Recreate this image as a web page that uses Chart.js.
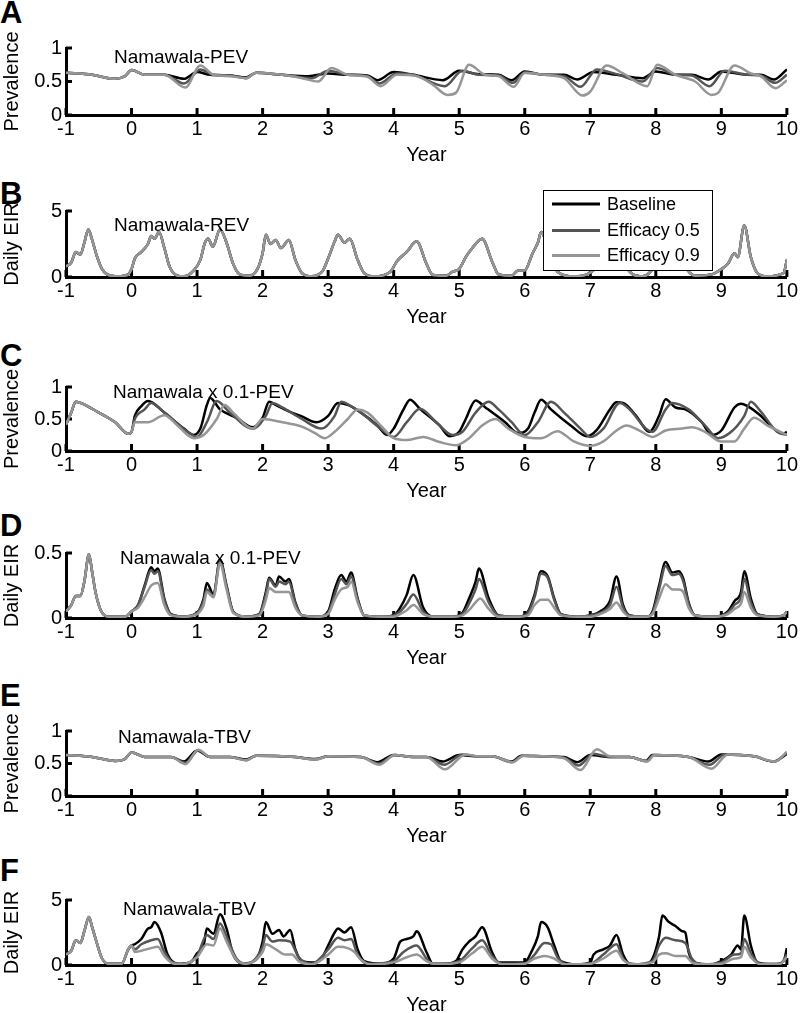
<!DOCTYPE html>
<html>
<head>
<meta charset="utf-8">
<script src="https://cdn.jsdelivr.net/npm/chart.js@4.4.0/dist/chart.umd.min.js"></script>
<style>
  body { margin: 0; background: #fff; width: 800px; height: 1013px; position: relative; overflow: hidden;
         font-family: "Liberation Sans", Arial, sans-serif; }
  .panel { position: absolute; left: 0; width: 800px; }
  .letter { position: absolute; left: 0; font-weight: bold; font-size: 31px; line-height: 30px; color: #000; }
</style>
</head>
<body>
<script>
const seriesNames = ["Baseline", "Efficacy 0.5", "Efficacy 0.9"];
const seriesColors = ["#000000", "#555555", "#969696"];
const prevTicks = [0, 0.5, 1];
const eirTicks = [0, 5];
const eirLowTicks = [0, 0.5];

// A: prevalence, Namawala-PEV  [year, value]
const aBase = [[-1,0.63],[-0.6,0.6],[-0.25,0.54],[-0.1,0.58],[0,0.67],[0.2,0.6],[0.5,0.6],[0.8,0.54],[1.0,0.64],[1.2,0.6],[1.5,0.59],[1.75,0.56],[1.9,0.63],[2.3,0.6],[2.7,0.58],[3.0,0.62],[3.3,0.6],[3.6,0.59],[3.75,0.52],[4.0,0.64],[4.3,0.6],[4.75,0.52],[5.0,0.66],[5.3,0.61],[5.6,0.6],[5.8,0.52],[6.0,0.65],[6.3,0.6],[6.6,0.6],[6.8,0.53],[7.05,0.64],[7.4,0.6],[7.8,0.55],[8.0,0.65],[8.3,0.6],[8.55,0.6],[8.8,0.53],[9.0,0.65],[9.4,0.6],[9.6,0.6],[9.8,0.53],[10,0.68]];
const aPre = [[-1,0.63],[-0.6,0.6],[-0.25,0.54],[-0.1,0.58],[0,0.67],[0.2,0.6],[0.5,0.6]];
const aEff5 = aPre.concat([[0.8,0.47],[1.05,0.68],[1.25,0.6],[1.5,0.59],[1.75,0.55],[1.9,0.63],[2.3,0.6],[2.75,0.55],[3.0,0.66],[3.3,0.6],[3.6,0.58],[3.78,0.47],[4.05,0.62],[4.3,0.6],[4.78,0.43],[5.05,0.66],[5.3,0.6],[5.6,0.59],[5.82,0.48],[6.0,0.63],[6.3,0.6],[6.6,0.58],[6.85,0.42],[7.1,0.68],[7.4,0.61],[7.8,0.5],[8.02,0.7],[8.3,0.6],[8.55,0.59],[8.82,0.43],[9.05,0.66],[9.4,0.6],[9.6,0.59],[9.82,0.48],[10,0.6]]);
const aEff9 = aPre.concat([[0.82,0.41],[1.05,0.74],[1.25,0.6],[1.5,0.58],[1.75,0.55],[1.9,0.63],[2.3,0.6],[2.6,0.55],[2.85,0.5],[3.05,0.7],[3.3,0.6],[3.6,0.57],[3.8,0.43],[4.05,0.6],[4.35,0.58],[4.6,0.45],[4.82,0.3],[4.95,0.33],[5.15,0.75],[5.4,0.6],[5.6,0.58],[5.83,0.42],[6.0,0.63],[6.3,0.6],[6.6,0.55],[6.88,0.29],[7.0,0.35],[7.25,0.74],[7.5,0.62],[7.87,0.43],[8.02,0.75],[8.3,0.6],[8.6,0.5],[8.85,0.3],[8.95,0.33],[9.2,0.74],[9.45,0.62],[9.6,0.58],[9.83,0.4],[10,0.52]]);

// B: daily EIR, Namawala-PEV (the three curves coincide)
const bBase = [[-1,0.8],[-0.92,1.1],[-0.85,1.9],[-0.78,1.7],[-0.72,2.6],[-0.66,3.6],[-0.6,2.8],[-0.53,1.6],[-0.45,0.6],[-0.35,0.15],[-0.2,0.05],[-0.05,0.2],[0,0.6],[0.05,1.4],[0.15,1.9],[0.25,2.5],[0.3,3.1],[0.35,2.9],[0.42,3.4],[0.5,2.2],[0.58,0.8],[0.68,0.15],[0.8,0.05],[0.95,0.5],[1.05,1.3],[1.12,2.6],[1.17,2.9],[1.24,2.3],[1.35,3.6],[1.45,2.6],[1.55,1.0],[1.65,0.2],[1.8,0.1],[1.92,0.6],[2.0,1.8],[2.05,3.2],[2.12,2.5],[2.2,2.8],[2.28,2.2],[2.4,2.8],[2.5,1.3],[2.6,0.3],[2.75,0.05],[2.92,0.5],[3.0,1.4],[3.1,2.7],[3.15,3.2],[3.25,2.6],[3.33,2.9],[3.45,1.3],[3.55,0.3],[3.7,0.05],[3.95,0.4],[4.05,1.2],[4.2,1.9],[4.35,2.7],[4.5,1.0],[4.6,0.15],[4.8,0.1],[4.9,0.4],[5.0,0.6],[5.1,1.5],[5.2,2.2],[5.35,2.9],[5.5,1.2],[5.6,0.2],[5.8,0.1],[5.9,0.5],[6.0,0.5],[6.12,1.8],[6.2,2.6],[6.25,3.4],[6.38,1.7],[6.5,0.4],[6.75,0.05],[6.95,0.2],[7.15,1.0],[7.3,2.0],[7.4,2.6],[7.5,1.2],[7.65,0.2],[7.8,0.05],[7.95,0.6],[8.1,2.2],[8.2,3.0],[8.35,2.2],[8.45,0.8],[8.6,0.1],[8.85,0.2],[9.0,0.6],[9.1,1.0],[9.2,1.8],[9.25,1.5],[9.35,3.9],[9.45,1.5],[9.55,0.3],[9.7,0.05],[9.95,0.3],[10,1.3]];
const bEff5 = bBase;
const bEff9 = bBase;

// C: prevalence, Namawala x 0.1-PEV
const cPre = [[-1,0.41],[-0.92,0.6],[-0.85,0.77],[-0.75,0.74],[-0.5,0.6],[-0.25,0.45],[-0.05,0.27],[0,0.3]];
const cBase = cPre.concat([[0.05,0.55],[0.15,0.7],[0.25,0.78],[0.5,0.6],[0.8,0.35],[0.95,0.25],[1.05,0.35],[1.15,0.72],[1.2,0.83],[1.35,0.65],[1.6,0.52],[1.85,0.37],[2.0,0.52],[2.1,0.77],[2.2,0.72],[2.4,0.62],[2.6,0.54],[2.82,0.45],[3.0,0.55],[3.15,0.75],[3.3,0.72],[3.5,0.6],[3.75,0.4],[3.9,0.25],[4.0,0.35],[4.15,0.65],[4.25,0.8],[4.4,0.66],[4.7,0.4],[4.85,0.23],[5.0,0.3],[5.1,0.5],[5.25,0.79],[5.4,0.68],[5.7,0.45],[5.9,0.28],[6.05,0.35],[6.15,0.6],[6.25,0.8],[6.4,0.65],[6.7,0.4],[6.95,0.23],[7.1,0.33],[7.3,0.65],[7.4,0.76],[7.5,0.75],[7.7,0.55],[7.9,0.3],[8.05,0.55],[8.15,0.81],[8.3,0.68],[8.45,0.65],[8.7,0.45],[8.85,0.25],[9.0,0.32],[9.2,0.68],[9.3,0.74],[9.4,0.7],[9.6,0.55],[9.8,0.35],[9.95,0.27],[10,0.3]]);
const cEff5 = cPre.concat([[0.05,0.5],[0.2,0.65],[0.3,0.75],[0.5,0.6],[0.85,0.3],[1.0,0.22],[1.15,0.45],[1.3,0.78],[1.5,0.6],[1.85,0.35],[2.05,0.55],[2.15,0.75],[2.3,0.68],[2.6,0.5],[2.9,0.35],[3.1,0.55],[3.2,0.77],[3.35,0.7],[3.5,0.6],[3.8,0.35],[4.0,0.22],[4.2,0.45],[4.4,0.66],[4.65,0.45],[4.9,0.25],[5.05,0.3],[5.25,0.6],[5.45,0.77],[5.6,0.65],[5.8,0.45],[6.0,0.25],[6.2,0.45],[6.4,0.77],[6.6,0.6],[6.85,0.35],[7.0,0.22],[7.2,0.35],[7.45,0.75],[7.6,0.65],[7.85,0.35],[7.95,0.3],[8.15,0.65],[8.25,0.75],[8.5,0.65],[8.75,0.4],[8.95,0.2],[9.15,0.3],[9.35,0.55],[9.45,0.77],[9.6,0.62],[9.85,0.3],[10,0.25]]);
const cEff9 = cPre.concat([[0.05,0.45],[0.25,0.45],[0.5,0.56],[0.7,0.4],[0.95,0.2],[1.1,0.25],[1.3,0.5],[1.42,0.72],[1.55,0.6],[1.85,0.35],[2.0,0.5],[2.3,0.45],[2.6,0.38],[2.8,0.28],[2.95,0.2],[3.1,0.3],[3.3,0.5],[3.45,0.65],[3.6,0.6],[3.8,0.4],[4.0,0.2],[4.2,0.17],[4.45,0.22],[4.7,0.14],[4.95,0.09],[5.15,0.2],[5.35,0.4],[5.55,0.5],[5.75,0.35],[6.0,0.22],[6.25,0.2],[6.5,0.31],[6.75,0.15],[7.0,0.08],[7.2,0.15],[7.4,0.32],[7.55,0.4],[7.75,0.32],[7.95,0.22],[8.15,0.32],[8.4,0.35],[8.55,0.37],[8.75,0.3],[9.0,0.15],[9.2,0.15],[9.35,0.35],[9.5,0.52],[9.7,0.4],[9.9,0.3],[10,0.25]]);

// D: daily EIR, Namawala x 0.1-PEV
const dPre = [[-1,0.05],[-0.92,0.1],[-0.85,0.17],[-0.78,0.17],[-0.72,0.28],[-0.65,0.49],[-0.6,0.35],[-0.55,0.2],[-0.47,0.06],[-0.35,0.01],[-0.1,0.01],[0,0.05]];
const dBase = dPre.concat([[0.1,0.1],[0.2,0.25],[0.3,0.39],[0.35,0.36],[0.4,0.38],[0.5,0.15],[0.6,0.03],[0.8,0.01],[1.0,0.04],[1.1,0.15],[1.15,0.27],[1.25,0.18],[1.35,0.45],[1.45,0.25],[1.55,0.05],[1.75,0.01],[1.95,0.03],[2.05,0.2],[2.1,0.31],[2.2,0.25],[2.25,0.32],[2.35,0.28],[2.4,0.3],[2.5,0.12],[2.6,0.02],[2.85,0.01],[3.0,0.05],[3.1,0.22],[3.2,0.33],[3.28,0.28],[3.35,0.35],[3.45,0.15],[3.55,0.02],[3.8,0.01],[4.0,0.02],[4.1,0.08],[4.2,0.18],[4.3,0.33],[4.45,0.08],[4.6,0.01],[4.9,0.01],[5.05,0.04],[5.15,0.15],[5.25,0.28],[5.3,0.38],[5.45,0.15],[5.6,0.02],[5.9,0.01],[6.05,0.05],[6.15,0.18],[6.25,0.36],[6.35,0.32],[6.45,0.15],[6.55,0.03],[6.8,0.01],[7.0,0.02],[7.15,0.05],[7.3,0.13],[7.4,0.32],[7.5,0.1],[7.6,0.02],[7.85,0.01],[7.95,0.05],[8.05,0.25],[8.15,0.43],[8.25,0.35],[8.35,0.36],[8.42,0.3],[8.5,0.12],[8.6,0.02],[8.9,0.01],[9.1,0.05],[9.2,0.13],[9.3,0.2],[9.35,0.36],[9.45,0.15],[9.55,0.03],[9.8,0.01],[9.95,0.02],[10,0.05]]);
const dEff5 = dPre.concat([[0.1,0.1],[0.2,0.24],[0.3,0.37],[0.35,0.34],[0.4,0.36],[0.5,0.14],[0.6,0.03],[0.8,0.01],[1.0,0.04],[1.1,0.13],[1.15,0.22],[1.25,0.17],[1.35,0.44],[1.45,0.24],[1.55,0.05],[1.75,0.01],[1.95,0.03],[2.05,0.18],[2.1,0.3],[2.2,0.24],[2.25,0.28],[2.35,0.26],[2.4,0.28],[2.5,0.11],[2.6,0.02],[2.85,0.01],[3.0,0.04],[3.1,0.18],[3.2,0.3],[3.28,0.26],[3.35,0.32],[3.45,0.14],[3.55,0.02],[3.8,0.01],[4.0,0.02],[4.1,0.05],[4.2,0.11],[4.3,0.18],[4.45,0.05],[4.6,0.01],[4.9,0.01],[5.05,0.03],[5.15,0.11],[5.25,0.22],[5.3,0.3],[5.45,0.12],[5.6,0.02],[5.9,0.01],[6.05,0.04],[6.15,0.16],[6.25,0.34],[6.35,0.31],[6.45,0.14],[6.55,0.03],[6.8,0.01],[7.0,0.02],[7.15,0.04],[7.3,0.1],[7.4,0.24],[7.5,0.08],[7.6,0.02],[7.85,0.01],[7.95,0.04],[8.05,0.22],[8.15,0.4],[8.25,0.33],[8.35,0.34],[8.42,0.28],[8.5,0.11],[8.6,0.02],[8.9,0.01],[9.1,0.04],[9.2,0.1],[9.3,0.16],[9.35,0.3],[9.45,0.12],[9.55,0.03],[9.8,0.01],[9.95,0.02],[10,0.05]]);
const dEff9 = dPre.concat([[0.1,0.08],[0.2,0.16],[0.3,0.25],[0.4,0.27],[0.5,0.1],[0.6,0.02],[0.8,0.01],[1.0,0.03],[1.1,0.1],[1.15,0.2],[1.25,0.16],[1.35,0.42],[1.45,0.22],[1.55,0.04],[1.75,0.01],[1.95,0.02],[2.05,0.14],[2.1,0.23],[2.2,0.2],[2.3,0.2],[2.4,0.2],[2.5,0.08],[2.6,0.02],[2.85,0.01],[3.0,0.03],[3.1,0.14],[3.2,0.22],[3.3,0.24],[3.35,0.28],[3.45,0.12],[3.55,0.02],[3.8,0.01],[4.0,0.01],[4.1,0.03],[4.2,0.06],[4.3,0.1],[4.45,0.03],[4.6,0.01],[4.9,0.01],[5.05,0.02],[5.15,0.06],[5.25,0.12],[5.32,0.15],[5.45,0.07],[5.6,0.01],[5.9,0.01],[6.05,0.02],[6.15,0.1],[6.25,0.14],[6.35,0.14],[6.45,0.08],[6.55,0.02],[6.8,0.01],[7.0,0.01],[7.15,0.03],[7.3,0.07],[7.4,0.12],[7.5,0.05],[7.6,0.01],[7.85,0.01],[7.95,0.03],[8.05,0.15],[8.15,0.26],[8.25,0.22],[8.35,0.22],[8.42,0.2],[8.5,0.08],[8.6,0.02],[8.9,0.01],[9.1,0.03],[9.2,0.07],[9.3,0.11],[9.35,0.2],[9.45,0.08],[9.55,0.02],[9.8,0.01],[9.95,0.02],[10,0.05]]);

// E: prevalence, Namawala-TBV
const ePre = [[-1,0.63],[-0.6,0.6],[-0.25,0.54],[-0.1,0.57],[0,0.67],[0.2,0.6],[0.6,0.6]];
const eBase = ePre.concat([[0.8,0.53],[1.0,0.7],[1.2,0.6],[1.5,0.6],[1.75,0.56],[1.9,0.62],[2.5,0.6],[2.8,0.57],[3.0,0.61],[3.5,0.6],[3.75,0.52],[4.0,0.63],[4.3,0.6],[4.5,0.6],[4.75,0.53],[5.0,0.63],[5.3,0.61],[5.5,0.61],[5.8,0.53],[5.95,0.62],[6.3,0.61],[6.6,0.6],[6.8,0.52],[7.0,0.63],[7.3,0.6],[7.6,0.6],[7.85,0.54],[7.95,0.63],[8.5,0.6],[8.8,0.53],[9.0,0.64],[9.5,0.61],[9.8,0.53],[10,0.65]]);
const eEff5 = ePre.concat([[0.82,0.51],[1.02,0.7],[1.2,0.6],[1.5,0.6],[1.75,0.55],[1.9,0.62],[2.5,0.6],[2.8,0.56],[3.0,0.61],[3.5,0.6],[3.77,0.5],[4.02,0.63],[4.3,0.6],[4.5,0.6],[4.77,0.48],[5.05,0.64],[5.3,0.61],[5.5,0.61],[5.8,0.52],[5.97,0.62],[6.3,0.61],[6.6,0.59],[6.82,0.47],[7.05,0.65],[7.3,0.6],[7.6,0.6],[7.86,0.54],[7.97,0.63],[8.5,0.6],[8.82,0.48],[9.05,0.64],[9.5,0.61],[9.8,0.53],[10,0.66]]);
const eEff9 = ePre.concat([[0.82,0.49],[1.02,0.71],[1.2,0.6],[1.5,0.6],[1.75,0.55],[1.9,0.62],[2.5,0.6],[2.8,0.56],[3.0,0.61],[3.5,0.6],[3.78,0.48],[4.02,0.63],[4.3,0.6],[4.5,0.6],[4.78,0.41],[5.1,0.64],[5.3,0.61],[5.5,0.61],[5.82,0.52],[5.98,0.62],[6.3,0.61],[6.6,0.58],[6.85,0.4],[7.1,0.72],[7.3,0.61],[7.6,0.6],[7.87,0.53],[7.98,0.63],[8.5,0.6],[8.85,0.42],[9.1,0.64],[9.5,0.61],[9.82,0.53],[10,0.68]]);

// F: daily EIR, Namawala-TBV
const fPre = [[-1,0.8],[-0.92,1.1],[-0.85,1.9],[-0.78,1.7],[-0.72,2.6],[-0.65,3.7],[-0.6,2.9],[-0.53,1.7],[-0.45,0.5],[-0.35,0.1],[-0.15,0.1],[-0.05,1.2],[0,1.5]];
const fBase = fPre.concat([[0.05,1.6],[0.15,2.0],[0.25,2.8],[0.3,2.9],[0.35,3.3],[0.45,2.5],[0.55,0.8],[0.7,0.1],[0.9,0.2],[1.0,0.9],[1.1,1.5],[1.15,2.8],[1.25,2.4],[1.35,3.9],[1.45,2.8],[1.55,0.8],[1.7,0.1],[1.9,0.4],[2.0,1.8],[2.05,3.3],[2.15,2.4],[2.25,2.7],[2.32,2.2],[2.42,2.7],[2.5,1.2],[2.6,0.3],[2.8,0.2],[2.9,0.5],[3.0,1.5],[3.1,2.5],[3.15,2.8],[3.25,2.5],[3.35,2.9],[3.45,1.2],[3.55,0.3],[3.8,0.1],[4.0,0.5],[4.1,1.8],[4.2,2.0],[4.3,2.2],[4.35,2.6],[4.5,1.0],[4.6,0.1],[4.8,0.1],[4.95,0.3],[5.05,1.2],[5.15,1.8],[5.25,2.2],[5.35,2.9],[5.5,1.0],[5.6,0.2],[5.85,0.2],[6.0,0.2],[6.1,1.0],[6.2,2.2],[6.25,3.3],[6.35,2.9],[6.45,1.5],[6.55,0.3],[6.8,0.05],[7.0,0.2],[7.05,0.8],[7.2,1.2],[7.3,1.5],[7.4,2.3],[7.5,0.8],[7.6,0.1],[7.85,0.05],[7.95,0.5],[8.05,2.2],[8.1,3.8],[8.2,3.3],[8.3,3.0],[8.4,2.6],[8.45,2.5],[8.5,1.0],[8.6,0.15],[8.85,0.05],[9.0,0.3],[9.15,0.8],[9.25,1.5],[9.3,1.2],[9.35,3.8],[9.45,1.5],[9.55,0.2],[9.8,0.05],[9.95,0.3],[10,1.3]]);
const fEff5 = fPre.concat([[0.05,1.2],[0.15,1.6],[0.3,1.9],[0.4,2.0],[0.5,1.0],[0.6,0.3],[0.75,0.05],[1.0,0.7],[1.15,2.3],[1.25,2.0],[1.35,3.2],[1.45,2.2],[1.6,0.5],[1.75,0.1],[2.0,1.4],[2.05,2.3],[2.15,1.8],[2.25,1.9],[2.42,1.8],[2.55,0.6],[2.75,0.1],[3.0,1.2],[3.15,2.1],[3.25,1.9],[3.35,2.0],[3.45,0.8],[3.6,0.1],[4.0,0.3],[4.15,1.0],[4.35,1.5],[4.5,0.5],[4.6,0.05],[5.0,0.3],[5.2,1.3],[5.35,1.9],[5.5,0.7],[5.65,0.1],[6.0,0.1],[6.15,0.8],[6.3,1.7],[6.4,1.6],[6.5,0.6],[6.65,0.05],[7.0,0.1],[7.2,0.8],[7.4,1.6],[7.5,0.5],[7.65,0.05],[7.95,0.3],[8.05,1.5],[8.15,2.1],[8.3,1.9],[8.45,1.7],[8.55,0.5],[8.7,0.05],[9.0,0.2],[9.2,0.8],[9.3,0.9],[9.35,2.0],[9.45,0.9],[9.6,0.1],[9.9,0.1],[10,0.8]]);
const fEff9 = fPre.concat([[0.05,1.0],[0.15,1.1],[0.3,1.3],[0.4,1.4],[0.5,0.7],[0.6,0.2],[0.75,0.05],[1.0,0.6],[1.15,1.6],[1.25,1.5],[1.35,2.8],[1.45,1.8],[1.6,0.4],[1.75,0.1],[2.0,1.0],[2.05,1.6],[2.2,1.2],[2.35,0.8],[2.45,0.8],[2.55,0.3],[2.75,0.05],[3.0,0.8],[3.15,1.4],[3.3,1.3],[3.4,1.0],[3.5,0.4],[3.65,0.05],[4.0,0.2],[4.2,0.6],[4.35,0.8],[4.5,0.3],[4.65,0.05],[5.0,0.2],[5.2,0.9],[5.35,1.4],[5.5,0.5],[5.65,0.05],[6.0,0.1],[6.15,0.5],[6.3,0.7],[6.45,0.5],[6.6,0.05],[7.0,0.1],[7.2,0.5],[7.4,1.1],[7.5,0.4],[7.65,0.05],[7.95,0.2],[8.05,0.8],[8.15,0.9],[8.3,0.7],[8.45,0.7],[8.55,0.2],[8.7,0.05],[9.0,0.1],[9.2,0.5],[9.3,0.6],[9.35,1.4],[9.45,0.6],[9.6,0.05],[9.9,0.1],[10,0.6]]);

const panels = [
  { letter: "A", title: "Namawala-PEV", yTitle: "Prevalence", yMax: 1, yTicks: prevTicks, series: [aBase, aEff5, aEff9], top: 48, bottom: 115, tx: 48, ty: 15, letterTop: -2 },
  { letter: "B", title: "Namawala-REV", yTitle: "Daily EIR", yMax: 5, yTicks: eirTicks, series: [bBase, bEff5, bEff9], top: 211, bottom: 277, tx: 48, ty: 20, letterTop: 179, legend: true },
  { letter: "C", title: "Namawala x 0.1-PEV", yTitle: "Prevalence", yMax: 1, yTicks: prevTicks, series: [cBase, cEff5, cEff9], top: 387, bottom: 451, tx: 47, ty: 11, letterTop: 341 },
  { letter: "D", title: "Namawala x 0.1-PEV", yTitle: "Daily EIR", yMax: 0.5, yTicks: eirLowTicks, series: [dBase, dEff5, dEff9], top: 553, bottom: 618, tx: 54, ty: 11, letterTop: 511 },
  { letter: "E", title: "Namawala-TBV", yTitle: "Prevalence", yMax: 1, yTicks: prevTicks, series: [eBase, eEff5, eEff9], top: 731, bottom: 796, tx: 52, ty: 12, letterTop: 681 },
  { letter: "F", title: "Namawala-TBV", yTitle: "Daily EIR", yMax: 5, yTicks: eirTicks, series: [fBase, fEff5, fEff9], top: 900, bottom: 965, tx: 57, ty: 15, letterTop: 856 }
];

const PAD_TOP = 25, X_AXIS_H = 52, Y_AXIS_W = 66, PAD_RIGHT = 12;
const FONT = '"Liberation Sans", Arial, sans-serif';

// inward ticks, panel title and the legend box of panel B
const decorPlugin = {
  id: "decor",
  beforeDatasetsDraw(chart) {
    const ctx = chart.ctx, xs = chart.scales.x, ys = chart.scales.y, a = chart.chartArea;
    ctx.save();
    ctx.strokeStyle = "#000";
    ctx.lineWidth = 3;
    xs.ticks.forEach(t => {
      const px = xs.getPixelForValue(t.value);
      ctx.beginPath(); ctx.moveTo(px, a.bottom); ctx.lineTo(px, a.bottom - 7); ctx.stroke();
    });
    ys.ticks.forEach(t => {
      const py = ys.getPixelForValue(t.value);
      ctx.beginPath(); ctx.moveTo(a.left, py); ctx.lineTo(a.left + 6, py); ctx.stroke();
    });
    ctx.restore();
  },
  afterDatasetsDraw(chart, args, opts) {
    const ctx = chart.ctx, a = chart.chartArea;
    ctx.save();
    ctx.fillStyle = "#000";
    ctx.font = "19px " + FONT;
    ctx.textBaseline = "alphabetic";
    ctx.fillText(opts.title, a.left + opts.tx, a.top + opts.ty);
    if (opts.legend) {
      const bx = 543, by = a.top - 21, bw = 169, bh = 80;
      ctx.fillStyle = "#fff";
      ctx.fillRect(bx, by, bw, bh);
      ctx.strokeStyle = "#000";
      ctx.lineWidth = 1;
      ctx.strokeRect(bx + 0.5, by + 0.5, bw, bh);
      const rows = [14, 40.5, 65.5];
      ctx.font = "18px " + FONT;
      ctx.textBaseline = "middle";
      seriesNames.forEach((name, i) => {
        const y = by + rows[i];
        ctx.strokeStyle = seriesColors[i];
        ctx.lineWidth = 3;
        ctx.beginPath(); ctx.moveTo(552, y); ctx.lineTo(600, y); ctx.stroke();
        ctx.fillStyle = "#000";
        ctx.fillText(name, 607, y + 1);
      });
    }
    ctx.restore();
  }
};

panels.forEach(p => {
  const letter = document.createElement("div");
  letter.className = "letter";
  letter.style.top = p.letterTop + "px";
  letter.textContent = p.letter;
  document.body.appendChild(letter);

  const box = document.createElement("div");
  box.className = "panel";
  box.style.top = (p.top - PAD_TOP) + "px";
  box.style.height = (p.bottom - p.top + PAD_TOP + X_AXIS_H) + "px";
  const canvas = document.createElement("canvas");
  box.appendChild(canvas);
  document.body.appendChild(box);

  new Chart(canvas, {
    type: "line",
    data: {
      datasets: p.series.map((s, i) => ({
        label: seriesNames[i],
        data: s,
        borderColor: seriesColors[i],
        borderWidth: 2.5,
        pointRadius: 0,
        cubicInterpolationMode: "monotone",
        order: 2 - i
      }))
    },
    options: {
      responsive: true,
      maintainAspectRatio: false,
      animation: false,
      events: [],
      layout: { padding: { top: PAD_TOP, right: PAD_RIGHT, left: 0, bottom: 0 } },
      plugins: {
        legend: { display: false },
        tooltip: { enabled: false },
        decor: { title: p.title, tx: p.tx, ty: p.ty, legend: !!p.legend }
      },
      scales: {
        x: {
          type: "linear", min: -1, max: 10,
          ticks: { stepSize: 1, color: "#000", font: { family: FONT, size: 20 }, padding: 2, maxRotation: 0 },
          grid: { display: false, drawTicks: false },
          border: { display: true, color: "#000", width: 3 },
          title: { display: true, text: "Year", color: "#000", font: { family: FONT, size: 20 }, padding: 0 },
          afterFit: s => { s.height = X_AXIS_H; }
        },
        y: {
          type: "linear", min: 0, max: p.yMax,
          afterBuildTicks: s => { s.ticks = p.yTicks.map(v => ({ value: v })); },
          ticks: { color: "#000", font: { family: FONT, size: 20 }, padding: 4, callback: v => String(v) },
          grid: { display: false, drawTicks: false },
          border: { display: true, color: "#000", width: 3 },
          title: { display: true, text: p.yTitle, color: "#000", font: { family: FONT, size: 20 }, padding: 0 },
          afterFit: s => { s.width = Y_AXIS_W; }
        }
      }
    },
    plugins: [decorPlugin]
  });
});
</script>
</body>
</html>
